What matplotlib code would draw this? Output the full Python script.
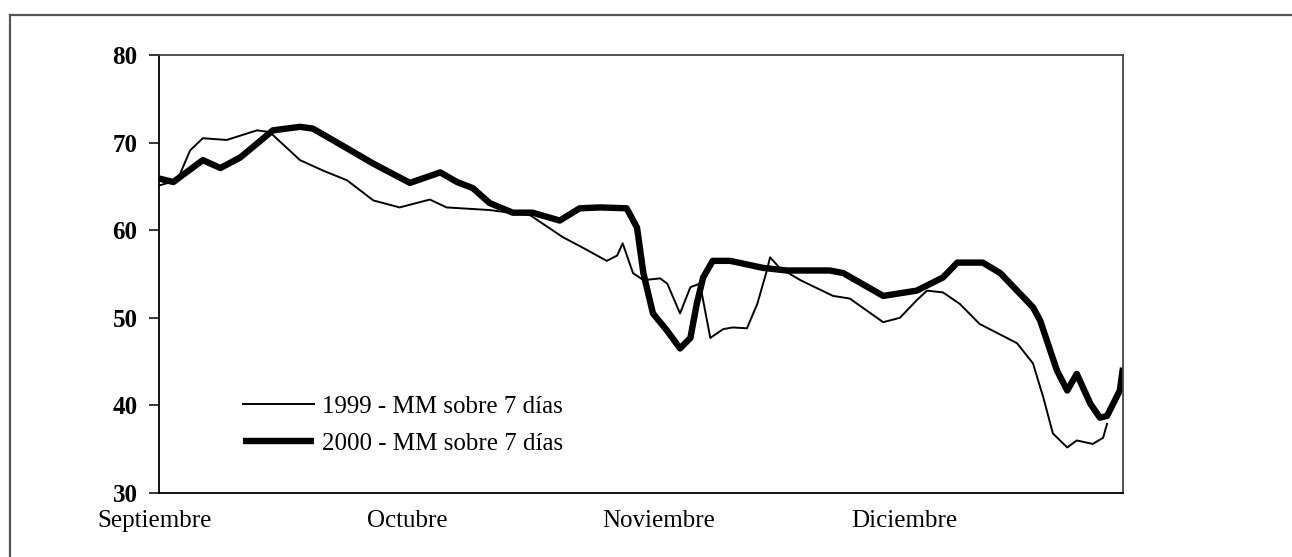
import matplotlib
matplotlib.use("Agg")
import matplotlib.pyplot as plt
from matplotlib.lines import Line2D

# Days counted from 1 September
days_1999 = [0, 2.3, 3.9, 5.5, 8.5, 12.3, 13.9, 17.7, 20.6, 23.6, 26.9, 30.2, 34.0, 36.1,
             41.5, 46.6, 50.7, 53.2, 56.2, 57.5, 58.2, 59.5, 60.8, 62.9, 63.8, 65.4, 66.7,
             67.9, 69.2, 70.8, 72.0, 73.8, 75.1, 76.3, 76.7, 77.9, 80.5, 84.6, 86.7, 90.9,
             93.0, 95.1, 96.4, 98.4, 100.5, 103.0, 107.7, 109.7, 111.0, 112.2, 114.0, 115.2,
             117.2, 118.5, 119.0]
vals_1999 = [65.1, 65.7, 69.1, 70.5, 70.3, 71.4, 71.2, 68.0, 66.8, 65.7, 63.4, 62.6, 63.5, 62.6,
             62.3, 61.7, 59.2, 58.0, 56.5, 57.1, 58.5, 55.1, 54.3, 54.5, 53.9, 50.5, 53.5,
             53.9, 47.7, 48.7, 48.9, 48.8, 51.6, 55.4, 56.9, 55.7, 54.3, 52.5, 52.2, 49.5,
             50.0, 52.0, 53.1, 52.9, 51.6, 49.3, 47.1, 44.8, 40.9, 36.8, 35.2, 36.0,
             35.6, 36.3, 37.9]

days_2000 = [0, 1.8, 5.5, 7.7, 10.2, 14.3, 17.7, 19.3, 21.8, 26.9, 31.5, 35.3, 37.4, 39.4,
             41.5, 44.4, 46.9, 50.3, 52.8, 55.4, 58.7, 60.0, 60.8, 62.0, 63.8, 65.4, 66.7,
             67.5, 68.3, 69.5, 71.7, 75.8, 78.8, 84.2, 85.9, 90.9, 95.1, 98.4, 100.2, 103.4,
             105.6, 109.7, 110.6, 112.7, 114.0, 115.2, 116.9, 118.1, 119.0, 120.6, 121.0]
vals_2000 = [65.9, 65.5, 68.0, 67.1, 68.3, 71.4, 71.8, 71.6, 70.3, 67.6, 65.4, 66.6, 65.5, 64.8,
             63.1, 62.0, 62.0, 61.1, 62.5, 62.6, 62.5, 60.3, 55.1, 50.5, 48.5, 46.5, 47.7,
             51.6, 54.6, 56.5, 56.5, 55.7, 55.4, 55.4, 55.1, 52.5, 53.1, 54.6, 56.3, 56.3,
             55.1, 51.2, 49.7, 44.0, 41.7, 43.6, 40.2, 38.6, 38.8, 41.7, 44.3]

month_labels = ["Septiembre", "Octubre", "Noviembre", "Diciembre"]
month_label_pos = [-0.5, 31.2, 62.7, 93.6]
y_ticks = [30, 40, 50, 60, 70, 80]
legend_labels = ["1999 - MM sobre 7 días", "2000 - MM sobre 7 días"]

plt.rcParams["font.family"] = ["Liberation Serif", "DejaVu Serif"]
FS = 18

fig = plt.figure(figsize=(12.92, 5.57), dpi=100)
ax = fig.add_axes([159 / 1292, 64 / 557, (1123 - 159) / 1292, (493 - 55) / 557])

ax.plot(days_1999, vals_1999, color="black", lw=1.4, label=legend_labels[0])
ax.plot(days_2000, vals_2000, color="black", lw=4.6, label=legend_labels[1],
        solid_capstyle="butt")

ax.set_xlim(0, 121)
ax.set_ylim(30, 80)
ax.set_yticks(y_ticks)
ax.set_yticklabels([str(t) for t in y_ticks], fontsize=FS, fontweight="bold")
ax.set_xticks([])
for lab, pos in zip(month_labels, month_label_pos):
    ax.text(pos, -0.038, lab, transform=ax.get_xaxis_transform(), ha="center", va="top",
            fontsize=FS, clip_on=False)
ax.tick_params(axis="y", direction="out", length=7.5, width=1.1, pad=8)

for side in ["left", "bottom"]:
    ax.spines[side].set_color("black")
    ax.spines[side].set_linewidth(1.3)
for side in ["top", "right"]:
    ax.spines[side].set_color("#444444")
    ax.spines[side].set_linewidth(1.3)

leg = ax.legend(loc="upper left", bbox_to_anchor=(0.077, 0.245), frameon=False,
                fontsize=FS, handlelength=2.85, handletextpad=0.3, labelspacing=0.58,
                borderaxespad=0)

# outer frame (top and left only visible)
fig.add_artist(Line2D([10 / 1292, 1.0], [1 - 15 / 557, 1 - 15 / 557],
                      transform=fig.transFigure, color="#555555", lw=1.6))
fig.add_artist(Line2D([10 / 1292, 10 / 1292], [0.0, 1 - 15 / 557],
                      transform=fig.transFigure, color="#555555", lw=1.6))

fig.savefig("out.png", dpi=100)
